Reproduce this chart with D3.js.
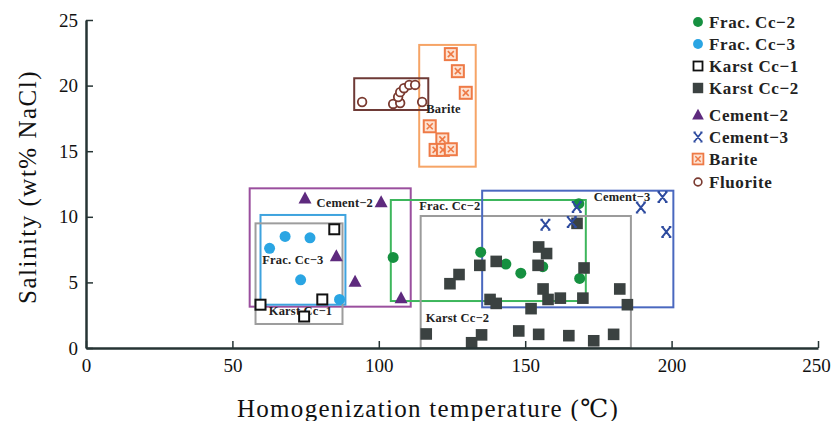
<!DOCTYPE html>
<html>
<head>
<meta charset="utf-8">
<script src="https://d3js.org/d3.v7.min.js"></script>
<style>
 body { margin: 0; background: #fff; }
 svg { display: block; font-family: "Liberation Serif", "DejaVu Serif", serif; }
</style>
</head>
<body>
<svg width="833" height="421"></svg>
<script>
 // ---- data (temperature in deg C, salinity in wt% NaCl) ----
 const fracCc2 = [[104.9, 6.9], [134.8, 7.3], [143.4, 6.4], [148.5, 5.7], [156, 6.2], [168.3, 11.0], [168.6, 5.3]];
 const fracCc3 = [[62.7, 7.6], [68.0, 8.5], [76.5, 8.4], [73.3, 5.2], [86.6, 3.7]];
 const karstCc1 = [[84.8, 9.05], [59.6, 3.3], [80.7, 3.7], [74.5, 2.4]];
 const karstCc2 = [[127.4, 5.6], [124.3, 4.9], [134.5, 6.3], [140.1, 6.6], [154.6, 7.7], [157.3, 7.2],
                   [154.4, 6.3], [170.1, 6.1], [156.1, 4.5], [157.8, 3.7], [162.0, 3.8], [169.7, 3.8],
                   [138.0, 3.7], [140.1, 3.4], [152.0, 3.0], [182.3, 4.5], [184.9, 3.3], [167.7, 9.5],
                   [116.2, 1.07], [135.1, 1.0], [131.7, 0.4], [147.8, 1.3], [154.6, 1.04], [164.9, 0.94],
                   [173.4, 0.55], [180.2, 1.04]];
 const cement2 = [[74.8, 11.4], [100.8, 11.1], [85.5, 7.0], [91.9, 5.05], [107.6, 3.8]];
 const cement3 = [[156.9, 9.4], [167.6, 10.75], [165.9, 9.6], [189.5, 10.7], [196.9, 11.5], [198.2, 8.85]];
 const barite = [[124.6, 22.4], [127.0, 21.1], [129.7, 19.45], [117.4, 16.9], [121.7, 15.9],
                 [119.4, 15.1], [121.9, 15.1], [124.6, 15.15]];
 const fluorite = [[94.3, 18.75], [104.9, 18.6], [107.3, 18.67], [106.6, 19.13], [107.3, 19.5],
                   [108.6, 19.8], [110.4, 20.05], [112.4, 20.05], [114.8, 18.75]];

 const seriesNames = ["Frac. Cc\u22122", "Frac. Cc\u22123", "Karst Cc\u22121", "Karst Cc\u22122",
                      "Cement\u22122", "Cement\u22123", "Barite", "Fluorite"];
 const seriesData = [fracCc2, fracCc3, karstCc1, karstCc2, cement2, cement3, barite, fluorite];

 // envelope boxes [x0, x1, y0, y1]
 const boxNames = ["Cement\u22122", "Frac. Cc\u22123", "Karst Cc\u22121", "Frac. Cc\u22122",
                   "Karst Cc\u22122", "Cement\u22123", "Barite", "Fluorite"];
 const boxExtents = [[55.9, 110.9, 3.15, 12.17], [59.6, 88.6, 3.3, 10.14], [57.9, 87.6, 1.83, 9.5],
                     [104.1, 170.7, 3.58, 11.28], [114.3, 186.1, 0, 10.06], [135.3, 200.6, 3.1, 11.99],
                     [113.8, 133.1, 13.82, 23.1], [91.6, 116.9, 18.14, 20.56]];
 // box labels: text, x, y (data units, left / baseline)
 const boxLabels = [["Cement\u22122", 78.7, 10.75], ["Frac. Cc\u22123", 60.2, 6.38], ["Karst Cc\u22121", 62.4, 2.5],
                    ["Frac. Cc\u22122", 113.8, 10.5], ["Karst Cc\u22122", 116.0, 2.0], ["Cement\u22123", 173.4, 11.2],
                    ["Barite", 116.2, 17.93]];

 const xTicks = [0, 50, 100, 150, 200, 250];
 const yTicks = [0, 5, 10, 15, 20, 25];

 const svg = d3.select("svg");
 const margin = {top: 20, left: 86, right: 15, bottom: 73};
 const width = 833, height = 421;

 const x = d3.scaleLinear().domain([0, 250]).range([margin.left, width - margin.right]);
 const y = d3.scaleLinear().domain([0, 25]).range([height - margin.bottom, margin.top]);

 const boxColors = {
   "Cement\u22122": "#9a4f9e", "Frac. Cc\u22123": "#3fa3de", "Karst Cc\u22121": "#9d9d9d",
   "Frac. Cc\u22122": "#3db65c", "Karst Cc\u22122": "#9b9b9b", "Cement\u22123": "#4a68bf",
   "Barite": "#f6a466", "Fluorite": "#6e3a36"
 };

 // boxes
 svg.append("g").selectAll("rect")
   .data(boxExtents)
   .join("rect")
   .attr("x", d => x(d[0]))
   .attr("y", d => y(d[3]))
   .attr("width", d => x(d[1]) - x(d[0]))
   .attr("height", d => y(d[2]) - y(d[3]))
   .attr("fill", "none")
   .attr("stroke", (d, i) => boxColors[boxNames[i]])
   .attr("stroke-width", 2);

 svg.append("g").selectAll("text")
   .data(boxLabels)
   .join("text")
   .attr("x", d => x(d[1]))
   .attr("y", d => y(d[2]))
   .attr("font-size", 12.5)
   .attr("font-weight", "bold")
   .attr("letter-spacing", 0.2)
   .attr("fill", "#222")
   .text(d => d[0]);

 // marker drawing
 function drawMarker(g, i) {
   if (i === 0) {
     g.append("circle").attr("r", 5.5).attr("fill", "#169040");
   } else if (i === 1) {
     g.append("circle").attr("r", 5.5).attr("fill", "#2aa5e3");
   } else if (i === 2) {
     g.append("rect").attr("x", -5).attr("y", -5).attr("width", 10).attr("height", 10)
      .attr("fill", "#fff").attr("stroke", "#111").attr("stroke-width", 2);
   } else if (i === 3) {
     g.append("rect").attr("x", -5.8).attr("y", -5.8).attr("width", 11.6).attr("height", 11.6)
      .attr("fill", "#3b4241");
   } else if (i === 4) {
     g.append("path").attr("d", "M0,-7L6.5,5L-6.5,5Z").attr("fill", "#5e2a7e");
   } else if (i === 5) {
     g.append("path").attr("d", "M-4,-5L4,5M4,-5L-4,5M-5,-5H-2.5M2.5,-5H5M-5,5H-2.5M2.5,5H5")
      .attr("stroke", "#2e4b9f").attr("stroke-width", 2).attr("fill", "none");
   } else if (i === 6) {
     g.append("rect").attr("x", -6).attr("y", -6).attr("width", 12).attr("height", 12)
      .attr("fill", "#fde2d2").attr("stroke", "#ee7a46").attr("stroke-width", 2);
     g.append("path").attr("d", "M-3,-3L3,3M3,-3L-3,3")
      .attr("stroke", "#ee7a46").attr("stroke-width", 1.6);
   } else {
     g.append("circle").attr("r", 4.3).attr("fill", "#fff")
      .attr("stroke", "#7a3a30").attr("stroke-width", 1.8);
   }
 }

 seriesData.forEach((pts, i) => {
   svg.append("g").selectAll("g")
     .data(pts)
     .join("g")
     .attr("transform", d => `translate(${x(d[0])},${y(d[1])})`)
     .each(function () { drawMarker(d3.select(this), i); });
 });

 // axes
 const axisColor = "#263434";
 const xAxis = svg.append("g")
   .attr("transform", `translate(0,${y(0)})`)
   .call(d3.axisBottom(x).tickValues(xTicks).tickSizeInner(-7).tickSizeOuter(0).tickPadding(11));
 const yAxis = svg.append("g")
   .attr("transform", `translate(${x(0)},0)`)
   .call(d3.axisLeft(y).tickValues(yTicks).tickSizeInner(-7).tickSizeOuter(0).tickPadding(8));

 [xAxis, yAxis].forEach(a => {
   a.select(".domain").attr("stroke", axisColor).attr("stroke-width", 2.5);
   a.selectAll(".tick line").attr("stroke", axisColor).attr("stroke-width", 1.5);
   a.selectAll(".tick text")
     .attr("font-family", "'Liberation Serif', serif")
     .attr("font-size", 19)
     .attr("fill", "#111");
 });
 // keep the last x label inside the window
 xAxis.selectAll(".tick text").filter(d => d === 250).attr("dx", -2);

 svg.append("text")
   .attr("x", 428).attr("y", 417)
   .attr("text-anchor", "middle")
   .attr("font-size", 25)
   .attr("letter-spacing", 1.3)
   .attr("fill", "#111")
   .text("Homogenization temperature (\u2103)");

 svg.append("text")
   .attr("transform", "translate(36,187) rotate(-90)")
   .attr("text-anchor", "middle")
   .attr("font-size", 25)
   .attr("letter-spacing", 1.5)
   .attr("fill", "#111")
   .text("Salinity (wt% NaCl)");

 // legend
 const legendRows = [22, 44, 66, 88, 115, 137, 159, 182];
 seriesNames.forEach((name, i) => {
   const lg = svg.append("g").attr("transform", `translate(698,${legendRows[i]})`);
   const m = lg.append("g").attr("transform", "scale(0.9)");
   drawMarker(m, i);
   lg.append("text")
     .attr("x", 11).attr("y", 6)
     .attr("font-size", 17)
     .attr("font-weight", "bold")
     .attr("letter-spacing", 0.6)
     .attr("fill", "#222")
     .text(name);
 });
</script>
</body>
</html>
